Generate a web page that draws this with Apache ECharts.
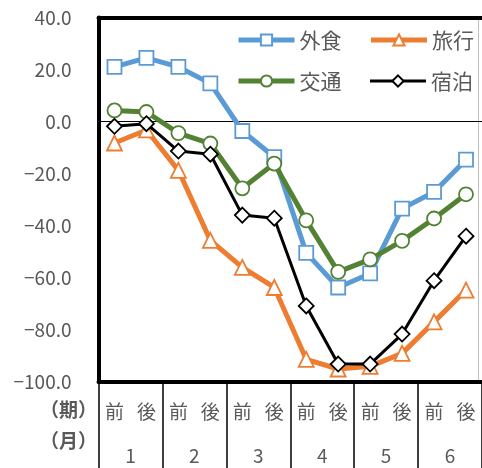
<!DOCTYPE html>
<html><head><meta charset="utf-8">
<script src="https://cdn.jsdelivr.net/npm/echarts@6/dist/echarts.min.js"></script>
<style>html,body{margin:0;padding:0;background:#fff}#c{width:482px;height:468px}</style>
</head><body><div id="c"></div>
<script>
const periods = ['前','後','前','後','前','後','前','後','前','後','前','後'];
const months = ['1','2','3','4','5','6'];
const gaishoku = [21, 24.5, 21, 14.7, -3.6, -13.6, -50.4, -63.7, -58.3, -33.4, -27, -14.6];
const ryoko    = [-8.2, -3.2, -18.7, -45.6, -56, -63.7, -91.3, -95, -94, -89, -76.9, -64.7];
const kotsu    = [4.3, 3.7, -4.4, -8.4, -25.6, -16.1, -37.9, -57.7, -52.9, -45.8, -37.2, -27.9];
const shukuhaku= [-1.8, -0.8, -11.3, -12.5, -35.9, -37.1, -70.8, -93.1, -93.1, -81.6, -61.1, -44];
const yTicks = {min: -100, max: 40, step: 20};

const FONT = 'Noto Sans CJK JP';
const GREY = '#595959';
const COLORS = {'外食': '#5b9bd5', '旅行': '#ed7d31', '交通': '#548235', '宿泊': '#000000'};
const WIDTHS = {'外食': 5, '旅行': 5, '交通': 5, '宿泊': 3};
const chart = echarts.init(document.getElementById('c'), null, {renderer: 'canvas'});
function mk(name, data, symbol, size, z) {
  const color = COLORS[name];
  return {
    name, type: 'line', data, symbol, symbolSize: size, showSymbol: true,
    xAxisIndex: 0, yAxisIndex: 0, z,
    lineStyle: {color, width: WIDTHS[name]},
    itemStyle: {color: '#fff', borderColor: color, borderWidth: 1.8},
    emphasis: {disabled: true}
  };
}
function legendItem(n) {
  return {name: n, lineStyle: {width: WIDTHS[n], color: COLORS[n]}};
}
const legendBase = {
  left: 236, padding: 0, itemWidth: 56, itemHeight: 14, itemGap: 27,
  textStyle: {fontFamily: FONT, fontSize: 21, color: GREY, padding: [0,0,0,0]}
};
chart.setOption({
  animation: false,
  grid: {left: 98.5, top: 17.5, width: 386, height: 364.5, containLabel: false},
  legend: [
    Object.assign({}, legendBase, {top: 29.5, data: ['外食','旅行'].map(legendItem)}),
    Object.assign({}, legendBase, {top: 70.5, data: ['交通','宿泊'].map(legendItem)})
  ],
  xAxis: [
    {type: 'category', data: periods, position: 'bottom', boundaryGap: true,
     axisLine: {onZero: false, lineStyle: {color: '#000', width: 4}},
     axisTick: {show: false},
     axisLabel: {interval: 0, margin: 20, fontFamily: FONT, fontSize: 19, color: GREY}},
    {type: 'category', data: months, position: 'bottom', boundaryGap: true,
     axisLine: {show: false, onZero: false},
     axisTick: {show: true, length: 86, interval: 0, lineStyle: {color: '#000', width: 1.5}},
     axisLabel: {interval: 0, margin: 64, fontFamily: FONT, fontSize: 19, color: GREY}},
    {type: 'category', data: periods, position: 'bottom',
     axisLine: {onZero: true, lineStyle: {color: '#000', width: 1}},
     axisTick: {show: false}, axisLabel: {show: false}},
    {type: 'category', data: periods, position: 'top',
     axisLine: {onZero: false, lineStyle: {color: '#000', width: 4}},
     axisTick: {show: false}, axisLabel: {show: false}}
  ],
  yAxis: [
    {type: 'value', min: yTicks.min, max: yTicks.max, interval: yTicks.step,
     axisLine: {show: true, onZero: false, lineStyle: {color: '#000', width: 4}},
     axisTick: {show: false}, splitLine: {show: false},
     axisLabel: {margin: 27, fontFamily: FONT, fontSize: 19, color: GREY,
       formatter: v => (v < 0 ? '\u2212' : '') + Math.abs(v).toFixed(1)}},
    {type: 'value', min: yTicks.min, max: yTicks.max, position: 'right', offset: -3.5,
     axisLine: {show: true, onZero: false, lineStyle: {color: '#bfbfbf', width: 1}},
     axisTick: {show: false}, splitLine: {show: false}, axisLabel: {show: false}}
  ],
  graphic: [
    {type: 'text', right: 482 - 97, top: 400, style: {text: '（期）', fontFamily: FONT, fontSize: 19, fill: GREY, fontWeight: 'bold'}},
    {type: 'text', right: 482 - 97, top: 431, style: {text: '（月）', fontFamily: FONT, fontSize: 19, fill: GREY, fontWeight: 'bold'}}
  ],
  series: [
    mk('外食', gaishoku, 'rect', 14, 2),
    mk('旅行', ryoko, 'triangle', 15, 3),
    mk('交通', kotsu, 'circle', 14, 4),
    mk('宿泊', shukuhaku, 'diamond', 15, 5)
  ]
});
</script></body></html>
